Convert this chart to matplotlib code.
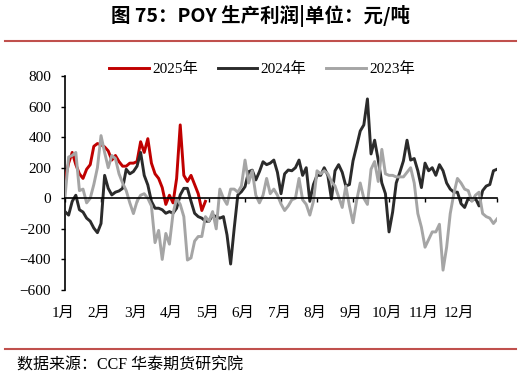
import numpy as np
import matplotlib.pyplot as plt
import matplotlib.transforms as mtransforms

plt.rcParams['font.family'] = ['Liberation Serif', 'Noto Sans CJK SC']

# values sampled every 0.1 month from 1月 start
p2025 = [120, 230, 300, 220, 160, 130, 190, 220, 340, 358,
         350, 336, 310, 250, 280, 240, 210, 210, 230, 230,
         240, 370, 300, 390, 230, 160, 130, 70, -40, 20,
         -30, 130, 480, 150, 110, 150, 90, 30, -80, -20]

p2024 = [-87, -110, -20, 20, -75, -90, -130, -150, -195, -225,
         -165, 150, 65, 22, 40, 48, 65, 190, 160, 175,
         210, 300, 150, 87, -20, -65, -65, -75, -98, -87,
         -98, -65, 22, 65, 65, -20, -98, -120, -130, -150,
         -150, -110, -120, -130, -120, -240, -430, -195, 22, 43,
         76, 174, 184, 120, 174, 239, 220, 230, 250, 170,
         30, 160, 185, 180, 200, 250, 150, 200, -20, 90,
         150, 150, 200, 150, -5, 180, 220, 170, 80, 90,
         245, 340, 440, 480, 650, 290, 380, 250, 100, 30,
         -220, -90, 100, 170, 245, 380, 250, 260, 180, 70,
         230, 180, 200, 150, 220, 180, 100, 60, 40, 40,
         -35, -60, 0, -15, 0, -50, 50, 80, 90, 180,
         190]

p2023 = [10, 270, 280, 300, 50, 60, -30, 0, 90, 200,
         410, 300, 200, 280, 260, 160, 100, 50, -30, -100,
         -20, 20, 30, 0, -50, -290, -210, -400, -230, -300,
         -100, 0, -40, -120, -404, -390, -280, -250, -250, -120,
         -150, -87, -200, 60, 0, -40, 60, 60, 40, 80,
         250, 100, 180, 20, -30, 20, 130, 30, 60, 20,
         -37, -80, -50, -10, 0, 130, -10, -40, -110, -20,
         180, 160, 180, 160, 110, 80, 10, -60, 80, -50,
         -160, -15, 100, 0, -40, 190, 240, 110, 320, 160,
         150, 150, 140, 140, 140, 170, 200, 100, -100, -190,
         -320, -270, -220, -220, -170, -470, -320, -100, 30, 130,
         100, 60, 50, -20, 20, 40, -100, -120, -130, -165,
         -135]

months = ['1月', '2月', '3月', '4月', '5月', '6月', '7月', '8月', '9月', '10月', '11月', '12月']

fig = plt.figure(figsize=(5.21, 3.79), dpi=100)
ax = fig.add_axes([0.1248, 0.2348, 0.8292, 0.5647])

x25 = np.arange(len(p2025)) * 0.1
x24 = np.arange(len(p2024)) * 0.1
x23 = np.arange(len(p2023)) * 0.1
ax.plot(x25, p2025, color='#C00000', lw=2.1, label='2025年', zorder=3)
ax.plot(x24, p2024, color='#2B2B2B', lw=2.1, label='2024年', zorder=4)
ax.plot(x23, p2023, color='#A5A5A5', lw=2.1, label='2023年', zorder=5)

ax.set_xlim(0, 12)
ax.set_ylim(-600, 800)
ax.set_yticks(np.arange(-600, 801, 200))
ax.set_xticks(np.arange(13))
ax.tick_params(axis='x', labelbottom=False, direction='out', length=3, width=1)
ax.tick_params(axis='y', direction='out', length=3, width=1, labelsize=11, pad=7)
for s in ['top', 'right']:
    ax.spines[s].set_visible(False)
ax.spines['bottom'].set_position(('data', 0))
ax.spines['bottom'].set_zorder(6)
ax.spines['left'].set_linewidth(1.2)
ax.spines['bottom'].set_linewidth(1.2)

trans = mtransforms.blended_transform_factory(ax.transData, ax.transAxes)
for i, m in enumerate(months):
    ax.text(i - 0.05, -0.11, m, transform=trans, ha='center', va='center', fontsize=11)

fig.legend(loc='center', bbox_to_anchor=(262 / 521, 1 - 69 / 379), ncol=3, frameon=False,
           fontsize=11, handlelength=2.6, handletextpad=0.2, columnspacing=1.3)

fig.text(0.5, 1 - 16 / 379, '图 75：POY 生产利润|单位：元/吨', ha='center', va='center',
         fontsize=14, fontweight='bold', family=['Noto Sans CJK SC'])
fig.add_artist(plt.Line2D([5 / 521, 516 / 521], [1 - 41 / 379, 1 - 41 / 379], color='#C0504D', lw=1.5))
fig.add_artist(plt.Line2D([5 / 521, 516 / 521], [1 - 349 / 379, 1 - 349 / 379], color='#C0504D', lw=1.5))
fig.text(17 / 521, 1 - 366 / 379, '数据来源：CCF 华泰期货研究院', ha='left', va='center',
         fontsize=11.5, family=['Liberation Serif', 'Noto Sans CJK SC'])

fig.savefig('out.png', dpi=100)
